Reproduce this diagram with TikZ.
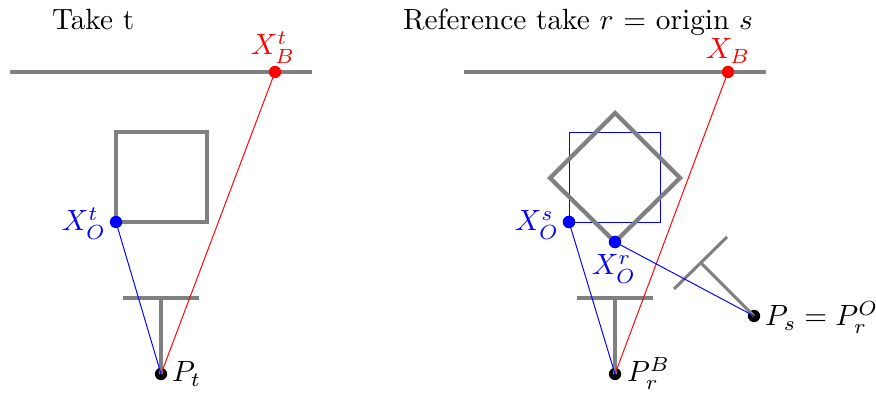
\documentclass[tikz,border=0pt]{standalone}
\tikzset{
  wall/.style={draw=gray,line width=1.45pt},
  cam/.style={draw=gray,line width=1.05pt},
  ray/.style={line width=0.33pt},
  pt/.style={circle,fill=#1,inner sep=0pt,minimum size=4.2pt},
  lab/.style={inner sep=0pt,outer sep=0pt}
}
\begin{document}
\begin{tikzpicture}[x=0.012cm,y=-0.012cm]
\useasboundingbox (0,0) rectangle (876,394);
% left panel
\coordinate (wl1) at (10,72); \coordinate (wl2) at (312,72);
\coordinate (sa) at (116,132); \coordinate (sb) at (207,132); \coordinate (sc) at (207,222); \coordinate (sd) at (116,222);
\coordinate (cl1) at (123,298); \coordinate (cl2) at (199,298); \coordinate (cl3) at (161,298);
\draw[wall] (wl1) -- (wl2);
\draw[wall] (sa) -- (sb) -- (sc) -- (sd) -- cycle;
\draw[cam] (cl1) -- (cl2);
\node[pt=red] (xbt) at (275,72) {};
\node[pt=blue] (xot) at (116,222) {};
\node[pt=black] (pt) at (161,374) {};
\draw[cam] (cl3) -- (pt.center);
\draw[red,ray] (pt.center) -- (xbt.center);
\draw[blue,ray] (pt.center) -- (xot.center);
% right panel
\coordinate (wr1) at (464,72); \coordinate (wr2) at (766,72);
\coordinate (ra) at (569,132); \coordinate (rb) at (660,132); \coordinate (rc) at (660,222);
\coordinate (da) at (615,113); \coordinate (db) at (680,178); \coordinate (dc) at (615,242); \coordinate (dd) at (550,178);
\coordinate (cr1) at (577,298); \coordinate (cr2) at (653,298); \coordinate (cr3) at (615,298);
\coordinate (cs1) at (674,289); \coordinate (cs2) at (727,237); \coordinate (cs3) at (701,263);
\draw[wall] (wr1) -- (wr2);
\node[pt=red] (xb) at (728,72) {};
\node[pt=blue] (xos) at (569,222) {};
\node[pt=blue] (xor) at (615,242) {};
\node[pt=black] (pr) at (615,374) {};
\node[pt=black] (ps) at (754,316) {};
\draw[blue,ray] (xos.center) -- (ra) -- (rb) -- (rc) -- cycle;
\draw[wall] (da) -- (db) -- (dc) -- (dd) -- cycle;
\draw[cam] (cr1) -- (cr2);
\draw[cam] (cr3) -- (pr.center);
\draw[cam] (cs1) -- (cs2);
\draw[cam] (cs3) -- (ps.center);
\node[pt=blue] at (xos) {};
\node[pt=blue] at (xor) {};
\draw[red,ray] (pr.center) -- (xb.center);
\draw[blue,ray] (pr.center) -- (xos.center);
\draw[blue,ray] (ps.center) -- (xor.center);
% labels
\node[lab,anchor=base west] (t1) at (52,30) {Take t};
\node[lab,anchor=base west] (t2) at (403,30) {Reference take $r$ = origin $s$};
\node[lab,anchor=base,text=red] (l1) at (273,55) {$X_B^t$};
\node[lab,anchor=base,text=red] (l2) at (728,59) {$X_B$};
\node[lab,anchor=base,text=blue] (l3) at (84,231) {$X_O^t$};
\node[lab,anchor=base,text=blue] (l4) at (537,231) {$X_O^s$};
\node[lab,anchor=base,text=blue] (l5) at (614,275) {$X_O^r$};
\node[lab,anchor=base west] (l6) at (172,382) {$P_t$};
\node[lab,anchor=base west] (l7) at (627,382) {$P_r^B$};
\node[lab,anchor=base west] (l8) at (765,326) {$P_s=P_r^O$};
\end{tikzpicture}
\end{document}
